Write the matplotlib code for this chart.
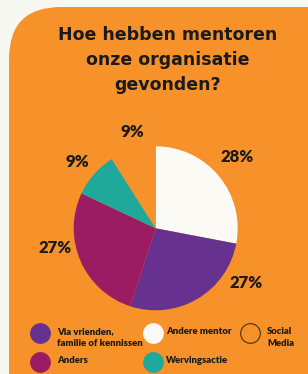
import matplotlib
matplotlib.use("Agg")
import matplotlib.pyplot as plt
from matplotlib.patches import FancyBboxPatch

title = "Hoe hebben mentoren\nonze organisatie\ngevonden?"
categories = ["Andere mentor", "Via vrienden,\nfamilie of kennissen", "Anders", "Wervingsactie", "Social\nMedia"]
values = [28, 27, 27, 9, 9]
colors = ["#fbfaf5", "#66318f", "#9b1c62", "#1fa99b", "#f7922a"]
label_pos = [(0.99, 0.87), (1.10, -0.67), (-1.23, -0.24), (-0.96, 0.81), (-0.28, 1.17)]
legend_pos = [(153, 333), (40, 333), (40, 362), (153, 362), (250, 333)]

W, H = 308, 374
fig = plt.figure(figsize=(W / 100, H / 100), dpi=100, facecolor="#f8f8f3")
FONT = ["Lato", "DejaVu Sans"]
DARK = "#1a1a1a"

bg = fig.add_axes([0, 0, 1, 1])
bg.set_xlim(0, W)
bg.set_ylim(H, 0)
bg.axis("off")
bg.add_patch(FancyBboxPatch((9, 7), 350, 420, boxstyle="round,pad=0,rounding_size=52",
                            fc="#f7922a", ec="none", zorder=0))
bg.text(168, 60, title, ha="center", va="center", fontsize=12.5, fontweight="bold",
        family=["DejaVu Sans"], color=DARK, linespacing=1.5)

cx, cy, r = 155.7, 228.3, 82
ax = fig.add_axes([(cx - r) / W, (H - cy - r) / H, 2 * r / W, 2 * r / H])
wedges, _ = ax.pie(values, colors=colors, startangle=90, counterclock=False,
                   wedgeprops=dict(linewidth=0))
ax.set_xlim(-1, 1)
ax.set_ylim(-1, 1)
ax.set_aspect("auto")
ax.axis("off")
for v, (x, y) in zip(values, label_pos):
    ax.text(x, y, f"{v}%", ha="center", va="center", fontsize=12, fontweight="heavy",
            family=FONT, color=DARK)

# legend
for i, (lx, ly) in enumerate(legend_pos):
    ec = "#4a3010" if i == 4 else colors[i]
    bg.scatter([lx], [ly], s=200, facecolor=colors[i], edgecolor=ec, linewidth=0.8, zorder=3)
    bg.text(lx + (13 if 100 < lx < 200 else 17), ly - 6, categories[i], ha="left", va="top",
            fontsize=6.8, fontweight="heavy", family=FONT, color=DARK, linespacing=1.45)

fig.savefig("out.png", dpi=100, facecolor=fig.get_facecolor())
